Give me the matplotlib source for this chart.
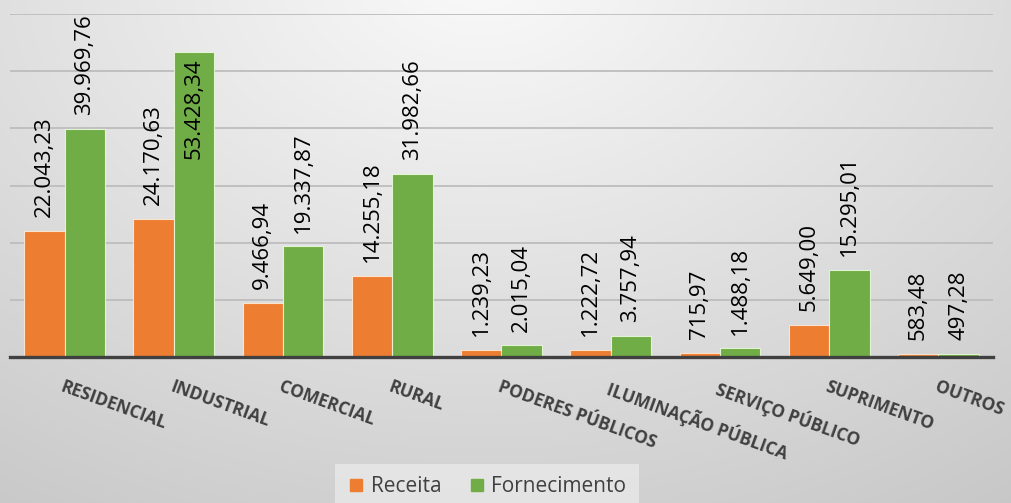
import numpy as np
import matplotlib.pyplot as plt
from matplotlib.lines import Line2D

categories = ["RESIDENCIAL", "INDUSTRIAL", "COMERCIAL", "RURAL", "PODERES PÚBLICOS",
              "ILUMINAÇÃO PÚBLICA", "SERVIÇO PÚBLICO", "SUPRIMENTO", "OUTROS"]
receita = [22043.23, 24170.63, 9466.94, 14255.18, 1239.23, 1222.72, 715.97, 5649.00, 583.48]
fornecimento = [39969.76, 53428.34, 19337.87, 31982.66, 2015.04, 3757.94, 1488.18, 15295.01, 497.28]
series_names = ["Receita", "Fornecimento"]
yticks = [0, 10000, 20000, 30000, 40000, 50000, 60000]

ORANGE = "#ED7D31"
GREEN = "#70AD47"
FONT = "Open Sans"
plt.rcParams['font.family'] = [FONT, 'DejaVu Sans']


def fmt(v):
    s = f"{v:,.2f}"
    return s.replace(",", "X").replace(".", ",").replace("X", ".")


W, H = 1011, 503
fig = plt.figure(figsize=(W / 100, H / 100), dpi=100)

# background radial gradient
bg = fig.add_axes([0, 0, 1, 1], zorder=-10)
yy, xx = np.mgrid[0:H, 0:W]
r = np.sqrt(((xx - 480) / 1000.0) ** 2 + ((yy + 30) / 712.0) ** 2)
val = (250 - 55 * np.clip(r, 0, 1.2)) / 255.0
img = np.dstack([val, val, val])
bg.imshow(img, aspect='auto', extent=[0, 1, 0, 1], origin='upper')
bg.axis('off')

left, right = 10 / W, 993 / W
bottom, top = 1 - 357 / H, 1 - 14 / H
ax = fig.add_axes([left, bottom, right - left, top - bottom])
ax.patch.set_alpha(0)

x = np.arange(len(categories))
bw = 0.37
b1 = ax.bar(x - bw / 2, receita, bw, color=ORANGE, edgecolor=(1, 0.95, 0.88, 0.8), linewidth=0.8, zorder=3)
b2 = ax.bar(x + bw / 2, fornecimento, bw, color=GREEN, edgecolor=(0.95, 1, 0.9, 0.8), linewidth=0.8, zorder=3)

ax.set_xlim(-0.5, len(categories) - 0.5)
ax.set_ylim(yticks[0], yticks[-1])
ax.set_yticks(yticks)
ax.yaxis.grid(True, color="#bdbdbd", linewidth=1.3, zorder=0)
ax.tick_params(axis='y', left=False, labelleft=False)
for s in ['top', 'right', 'left']:
    ax.spines[s].set_visible(False)
ax.spines['bottom'].set_color('#404040')
ax.spines['bottom'].set_linewidth(2.4)
ax.spines['bottom'].set_zorder(5)

ax.set_xticks(x)
ax.set_xticklabels(categories, fontsize=12.5, fontweight='bold', color='#404040')
ax.tick_params(axis='x', length=0, pad=15)
for lab in ax.get_xticklabels():
    lab.set_rotation(-20)
    lab.set_ha('left')
    lab.set_va('top')
    lab.set_rotation_mode('anchor')

ymax = yticks[-1]
lab_len = 17500
for bars, vals in ((b1, receita), (b2, fornecimento)):
    for rect, v in zip(bars, vals):
        cx = rect.get_x() + rect.get_width() / 2
        if v + 2500 + lab_len > ymax * 1.02:
            ax.annotate(fmt(v), (cx, v), xytext=(0, -5), textcoords='offset points',
                        rotation=90, ha='center', va='top', fontsize=16, color='black', zorder=6)
        else:
            ax.annotate(fmt(v), (cx, v), xytext=(0, 10), textcoords='offset points',
                        rotation=90, ha='center', va='bottom', fontsize=16, color='black',
                        zorder=6, annotation_clip=False)

handles = [Line2D([], [], marker='s', linestyle='none', markersize=9, color=ORANGE),
           Line2D([], [], marker='s', linestyle='none', markersize=9, color=GREEN)]
leg = fig.legend(handles, series_names, loc='center', bbox_to_anchor=(487 / W, 1 - 487 / H),
                 ncol=2, frameon=True, fontsize=15, handlelength=0.8, handletextpad=0.3,
                 columnspacing=1.3, borderpad=0.6, labelcolor='#404040')
leg.get_frame().set_facecolor('#ececec')
leg.get_frame().set_alpha(0.7)
leg.get_frame().set_edgecolor('none')
leg.get_frame().set_boxstyle('square', pad=0)

fig.savefig('out.png', dpi=100)
